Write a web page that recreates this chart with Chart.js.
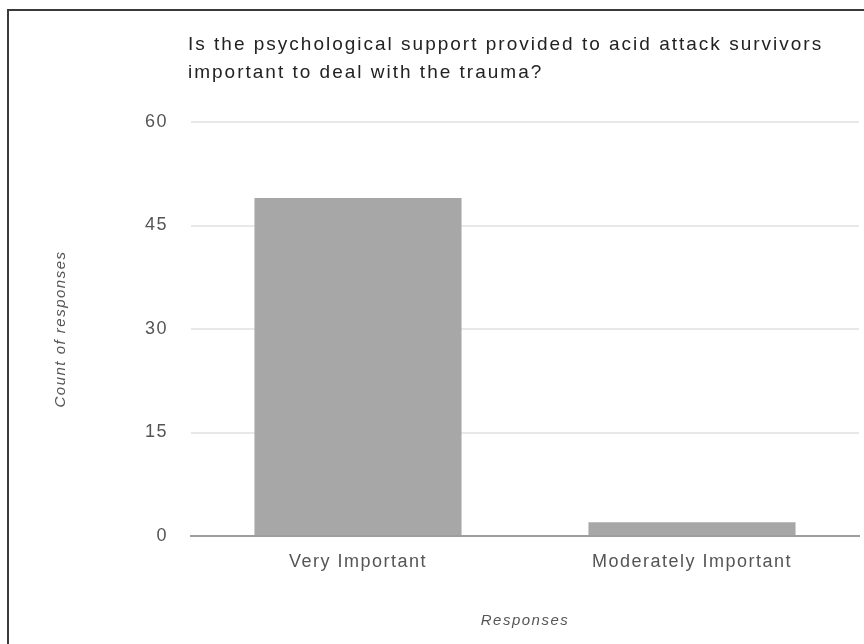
<!DOCTYPE html>
<html>
<head>
<meta charset="utf-8">
<script src="https://cdn.jsdelivr.net/npm/chart.js@4"></script>
<style>
  html, body { margin: 0; padding: 0; background: #fff; }
  #wrap { position: absolute; left: 0; top: 0; width: 864px; height: 644px; }
</style>
</head>
<body>
<div id="wrap"><canvas id="chart"></canvas></div>
<script>
// chart data
const categories = ["Very Important", "Moderately Important"];
const counts = [49, 2];
const yTicks = [0, 15, 30, 45, 60];
const titleLines = [
  "Is the psychological support provided to acid attack survivors",
  "important to deal with the trauma?"
];

const FONT = "'Liberation Sans', Arial, sans-serif";
const SPACING = "1.5px"; // reference text is drawn wide

// frame, letter spacing and the left-aligned title
const framePlugin = {
  id: "frame",
  beforeUpdate(chart) { chart.ctx.letterSpacing = SPACING; },
  beforeDraw(chart) {
    const ctx = chart.ctx;
    ctx.letterSpacing = SPACING;
    ctx.save();
    ctx.fillStyle = "#fff";
    ctx.fillRect(0, 0, chart.width, chart.height);
    ctx.strokeStyle = "#3a3a3a";
    ctx.lineWidth = 2;
    ctx.beginPath();
    ctx.moveTo(8, chart.height);
    ctx.lineTo(8, 10);
    ctx.lineTo(chart.width, 10);
    ctx.stroke();
    ctx.restore();
  },
  afterDraw(chart) {
    const ctx = chart.ctx;
    ctx.save();
    ctx.fillStyle = "#222";
    ctx.font = "19px " + FONT;
    ctx.letterSpacing = "2px";
    ctx.textBaseline = "middle";
    titleLines.forEach((t, i) => ctx.fillText(t, chart.chartArea.left - 3, 45 + i * 28));
    ctx.restore();
  }
};

new Chart(document.getElementById("chart"), {
  type: "bar",
  data: {
    labels: categories,
    datasets: [{
      data: counts,
      backgroundColor: "#a7a7a7",
      barPercentage: 0.62,
      categoryPercentage: 1
    }]
  },
  options: {
    responsive: true,
    maintainAspectRatio: false,
    animation: false,
    layout: { padding: { top: 122, right: 5, left: 0, bottom: 0 } },
    plugins: {
      legend: { display: false },
      tooltip: { enabled: false }
    },
    scales: {
      x: {
        grid: { display: false, drawTicks: false },
        border: { color: "#9e9e9e", width: 2 },
        ticks: { color: "#555", font: { family: FONT, size: 18 }, padding: 15 },
        title: {
          display: true, text: "Responses", color: "#555",
          font: { family: FONT, size: 15, style: "italic" },
          padding: { top: 0, bottom: 14 }
        },
        afterFit(scale) { scale.height = 108; }
      },
      y: {
        min: 0, max: 60,
        afterBuildTicks(scale) { scale.ticks = yTicks.map(v => ({ value: v })); },
        grid: {
          drawTicks: false,
          color: ctx => ctx.tick && ctx.tick.value === 0 ? "rgba(0,0,0,0)" : "#e8e8e8",
          lineWidth: 2
        },
        border: { display: false },
        ticks: { color: "#555", font: { family: FONT, size: 18 }, padding: 23 },
        title: {
          display: true, text: "Count of responses", color: "#555",
          font: { family: FONT, size: 15, style: "italic" },
          padding: { top: 52, bottom: 0 }
        },
        afterFit(scale) { scale.width = 191; }
      }
    }
  },
  plugins: [framePlugin]
});
</script>
</body>
</html>
